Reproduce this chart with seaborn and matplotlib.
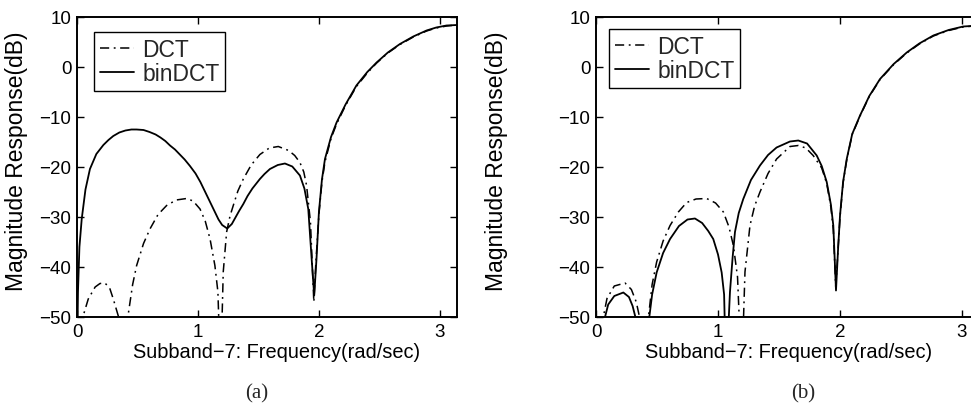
import matplotlib
matplotlib.use("Agg")
import matplotlib.pyplot as plt
import seaborn as sns
import numpy as np

# values (frequency in rad/sec, magnitude in dB)
# panel (a)
a_bin_f = [0.0, 0.008, 0.02, 0.039, 0.07, 0.107, 0.16, 0.218, 0.26, 0.3, 0.35, 0.4, 0.45, 0.493,
           0.55, 0.6, 0.65, 0.69, 0.73, 0.769, 0.81, 0.85, 0.89, 0.934, 0.98, 1.02, 1.06, 1.10,
           1.14, 1.17, 1.20, 1.242, 1.28, 1.31, 1.34, 1.375, 1.41, 1.45, 1.512, 1.55, 1.595,
           1.66, 1.719, 1.78, 1.843, 1.88, 1.912, 1.94, 1.961, 1.98, 2.0, 2.025, 2.05, 2.10,
           2.146, 2.22, 2.31, 2.40, 2.477, 2.57, 2.67, 2.78, 2.89, 2.97, 3.055, 3.1416]
a_bin_db = [-60, -45, -36, -30.4, -24.5, -20.4, -17.4, -15.6, -14.6, -13.8, -13.1, -12.7, -12.5, -12.5,
            -12.6, -13.0, -13.5, -14.1, -14.8, -15.7, -16.5, -17.5, -18.5, -19.8, -21.3, -23, -25, -27,
            -29, -30.5, -31.6, -32.3, -31.4, -30.1, -28.8, -27.4, -25.8, -24.3, -22.4, -21.4, -20.4,
            -19.6, -19.3, -19.9, -21.7, -24.3, -28.4, -38.4, -45.7, -38.4, -29, -22.5, -18.4, -14.0,
            -11.1, -7.5, -3.7, -1.0, 0.9, 2.9, 4.6, 6.1, 7.3, 7.9, 8.3, 8.4]

a_dct_f = [0.03, 0.052, 0.093, 0.15, 0.19, 0.231, 0.27, 0.30, 0.35, 0.383, 0.424, 0.46, 0.493, 0.55,
           0.603, 0.67, 0.741, 0.82, 0.906, 0.96, 1.017, 1.06, 1.10, 1.14, 1.165, 1.187, 1.209,
           1.237, 1.265, 1.292, 1.33, 1.375, 1.44, 1.512, 1.59, 1.664, 1.75, 1.80, 1.843, 1.875,
           1.898, 1.93, 1.958, 1.975, 2.0, 2.025, 2.05, 2.10, 2.146, 2.22, 2.31, 2.40, 2.477, 2.57,
           2.67, 2.78, 2.89, 2.97, 3.055, 3.1416]
a_dct_db = [-60, -49.7, -46.4, -44, -43.3, -43.2, -44.2, -46.4, -50.5, -62, -49.4, -43.5, -39.7, -35.3,
            -32.4, -29.5, -27.7, -26.6, -26.3, -26.8, -28.4, -30.8, -34.4, -39.7, -45, -62, -41,
            -33, -29.8, -27.7, -24.8, -22.4, -19.6, -17.5, -16.2, -15.9, -16.7, -17.7, -19.1, -21,
            -23.7, -31, -47, -39, -29.5, -23, -19, -14.3, -11.4, -7.7, -3.9, -1.2, 0.8, 2.8,
            4.5, 6.0, 7.2, 7.8, 8.2, 8.4]

# panel (b)
b_bin_f = [0.05, 0.074, 0.10, 0.15, 0.224, 0.27, 0.30, 0.328, 0.36, 0.38, 0.41, 0.437, 0.46, 0.497,
           0.55, 0.607, 0.68, 0.75, 0.811, 0.87, 0.92, 0.961, 1.0, 1.03, 1.05, 1.066, 1.098,
           1.12, 1.139, 1.17, 1.207, 1.27, 1.344, 1.41, 1.48, 1.59, 1.658, 1.73, 1.809, 1.85,
           1.891, 1.925, 1.945, 1.967, 1.985, 2.0, 2.025, 2.055, 2.10, 2.164, 2.24, 2.328, 2.44,
           2.547, 2.65, 2.765, 2.89, 3.01, 3.1416]
b_bin_db = [-60, -50, -47.5, -45.8, -45.1, -46, -47.8, -50.5, -62, -70, -62, -50, -45.5, -41.1,
            -37.2, -34.4, -31.8, -30.5, -30.3, -31.2, -32.8, -34.4, -37.5, -41.1, -45.5, -62, -45,
            -38, -33, -29.2, -26.4, -22.6, -19.7, -17.6, -16.1, -14.9, -14.7, -15.3, -17.7, -19.8,
            -23, -27.5, -31.7, -44.7, -36, -29.7, -23, -18.4, -13.4, -9.7, -5.8, -2.4, 0.6,
            2.9, 4.7, 6.3, 7.4, 8.1, 8.3]

b_dct_f = [0.035, 0.06, 0.09, 0.15, 0.238, 0.29, 0.33, 0.361, 0.39, 0.43, 0.46, 0.497, 0.55, 0.607,
           0.675, 0.743, 0.82, 0.907, 0.98, 1.044, 1.09, 1.126, 1.16, 1.194, 1.221, 1.262, 1.30,
           1.344, 1.41, 1.48, 1.59, 1.658, 1.72, 1.78, 1.85, 1.891, 1.925, 1.945, 1.965, 1.985,
           2.0, 2.025, 2.055, 2.10, 2.164, 2.24, 2.328, 2.44, 2.547, 2.65, 2.765, 2.89, 3.01, 3.1416]
b_dct_db = [-60, -50, -46.3, -43.8, -43.2, -44.5, -47, -50.5, -62, -50, -43.5, -39, -34.8, -31.7,
            -29.0, -27.1, -26.4, -26.3, -27.2, -29, -32, -35.7, -42, -62, -41, -31.7, -27.8,
            -25, -21.3, -18.4, -15.9, -15.7, -16.2, -17.7, -20.2, -23.3, -28, -32.5, -44, -36,
            -30, -23.2, -18.6, -13.5, -9.8, -5.9, -2.5, 0.5, 2.8, 4.6, 6.2, 7.3, 8.0, 8.3]

sns.set_theme(style="ticks")
plt.rcParams["font.family"] = ["Liberation Sans", "DejaVu Sans"]
plt.rcParams["axes.unicode_minus"] = True

W, H = 971, 410
fig = plt.figure(figsize=(W / 100, H / 100), dpi=100)
ax_a = fig.add_axes([77 / W, 92 / H, 380 / W, 300 / H])
ax_b = fig.add_axes([596 / W, 92 / H, 383.3 / W, 300 / H])

dashdot = (0, (6, 3, 1.2, 3))
panels = [
    # axes, dct x/y, bindct x/y, legend anchor, ylabel x, xlabel x, caption, caption x
    (ax_a, a_dct_f, a_dct_db, a_bin_f, a_bin_db, (0.045, 0.95), -0.129, 0.526, "(a)", 257),
    (ax_b, b_dct_f, b_dct_db, b_bin_f, b_bin_db, (0.034, 0.96), -0.2296, 0.503, "(b)", 803),
]

for ax, df, ddb, bf, bdb, leg_pos, ylab_x, xlab_x, cap, cap_x in panels:
    sns.lineplot(x=df, y=ddb, ax=ax, color="black", linewidth=1.1,
                 linestyle=dashdot, label="DCT", estimator=None)
    sns.lineplot(x=bf, y=bdb, ax=ax, color="black", linewidth=1.3,
                 label="binDCT", estimator=None)
    ax.set_xlim(0, np.pi)
    ax.set_ylim(-50, 10)
    ax.set_xticks([0, 1, 2, 3])
    ax.set_yticks([-50, -40, -30, -20, -10, 0, 10])
    ax.tick_params(direction="in", top=True, right=True, length=5, width=1,
                   labelsize=13.5, pad=4, colors="black")
    for sp in ax.spines.values():
        sp.set_visible(True)
        sp.set_linewidth(1.4)
        sp.set_color("black")
    ax.set_xlabel("Subband\u22127: Frequency(rad/sec)", fontsize=14.4, color="black")
    ax.set_ylabel("Magnitude Response(dB)", fontsize=16.5, color="black")
    ax.xaxis.set_label_coords(xlab_x, -0.083)
    ax.yaxis.set_label_coords(ylab_x, 0.523)
    leg = ax.legend(loc="upper left", bbox_to_anchor=leg_pos, fontsize=16.5,
                    frameon=True, fancybox=False, edgecolor="black", framealpha=1,
                    handlelength=1.5, handletextpad=0.36, labelspacing=0.05,
                    borderpad=0.25, borderaxespad=0)
    leg.get_frame().set_linewidth(1.0)
    fig.text(cap_x / W, 1 - 394 / H, cap, ha="center", va="center",
             family="Liberation Serif", fontsize=15)

fig.savefig("out.png", dpi=100)
